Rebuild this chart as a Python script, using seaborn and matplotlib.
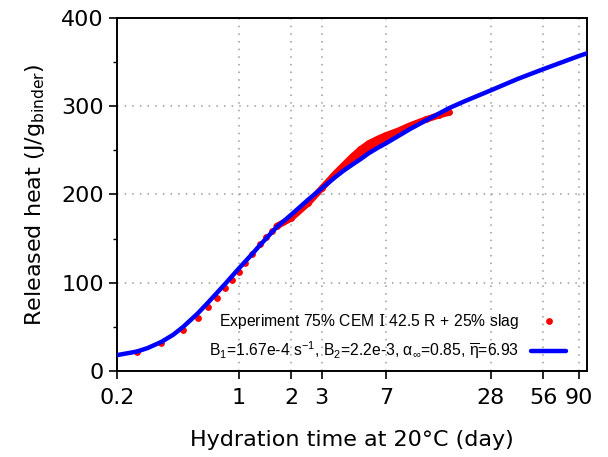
import matplotlib
matplotlib.use("Agg")
import matplotlib.pyplot as plt
from matplotlib.ticker import MultipleLocator, NullLocator
from matplotlib.font_manager import FontProperties
import seaborn as sns
import numpy as np

# ---------------- data ----------------
exp_time = [0.26, 0.36, 0.48, 0.58, 0.67, 0.75, 0.83, 0.92, 1.0, 1.08, 1.2, 1.33,
            1.44, 1.55, 1.65, 2.0, 2.5, 3.0, 3.6, 4.0, 4.5, 5.0, 5.6, 6.3, 7.0,
            8.2, 9.6, 11.9, 14.2, 16.2]
exp_heat = [21.9, 32.1, 46.5, 59.7, 72.2, 83.1, 93.7, 103.1, 112.5, 122, 132.6, 143.9,
            152.2, 159, 164, 173, 190, 207, 224, 233, 243, 251, 258, 263, 267,
            272, 278, 285, 290, 293]

model_time = [0.2, 0.26, 0.3, 0.36, 0.42, 0.48, 0.58, 0.67, 0.83, 1.0, 1.2, 1.33,
              1.65, 2.0, 2.5, 3.0, 3.6, 4.0, 4.5, 5.0, 5.6, 6.3, 7.0, 8.2, 9.6,
              11.9, 14.2, 16.2, 20, 28, 40, 56, 90, 100]
model_heat = [18, 22, 26, 33, 41, 50, 65, 78, 98, 116, 133, 143,
              163, 177, 194, 207, 220, 227, 234, 240, 247, 253, 258, 266, 274,
              284, 292, 298, 306, 318, 331, 342, 357, 360]

x_ticks = [0.2, 1, 2, 3, 7, 28, 56, 90]
x_tick_labels = ["0.2", "1", "2", "3", "7", "28", "56", "90"]
y_ticks = [0, 100, 200, 300, 400]

exp_label = "Experiment 75% CEM $\\mathtt{I}$ 42.5 R + 25% slag"
model_label = r"B$_1$=1.67e-4 s$^{-1}$, B$_2$=2.2e-3, α$_\infty$=0.85, $\overline{\eta}$=6.93"
x_label = "Hydration time at 20°C (day)"
y_label = r"Released heat (J/g$_{\rm binder}$)"

# ---------------- style ----------------
sns.set_style("ticks")
plt.rcParams["font.family"] = ["DejaVu Sans"]
plt.rcParams["text.color"] = "black"
plt.rcParams["axes.labelcolor"] = "black"
plt.rcParams["xtick.color"] = "black"
plt.rcParams["ytick.color"] = "black"
plt.rcParams["mathtext.fontset"] = "dejavusans"
plt.rcParams["mathtext.rm"] = "Liberation Sans"
plt.rcParams["mathtext.it"] = "Liberation Sans:italic"
plt.rcParams["mathtext.bf"] = "Liberation Sans:bold"
plt.rcParams["mathtext.tt"] = "DejaVu Serif"
plt.rcParams["mathtext.default"] = "regular"

fig, ax = plt.subplots(figsize=(6.08, 4.57), dpi=100)
fig.subplots_adjust(left=0.1924, right=0.9655, top=0.9606, bottom=0.1882)

# dense part of the experiment (continuous band)
model_lookup = dict(zip(model_time, model_heat))
dense = [(t, q, model_lookup[t]) for t, q in zip(exp_time, exp_heat)
         if t >= 1.65 and t in model_lookup]
d_t = np.array([d[0] for d in dense])
d_e = np.array([d[1] for d in dense])
d_m = np.array([d[2] for d in dense])

ax.fill_between(d_t, d_m, d_e, where=d_e > d_m, interpolate=True,
                color="#ff0000", lw=0, zorder=2)
sns.lineplot(x=d_t, y=d_e, color="#ff0000", lw=4.7, ax=ax, legend=False,
             zorder=2, label="_nolegend_")
sns.scatterplot(x=exp_time, y=exp_heat, color="#ff0000", s=24, linewidth=0,
                ax=ax, label=exp_label, zorder=2)
sns.lineplot(x=model_time, y=model_heat, color="#0000ff", lw=3.2, ax=ax,
             label=model_label, zorder=3)

ax.set_xscale("log")
ax.set_xlim(0.2, 100)
ax.set_ylim(0, 400)
ax.set_xticks(x_ticks)
ax.set_xticklabels(x_tick_labels)
ax.xaxis.set_minor_locator(NullLocator())
ax.set_yticks(y_ticks)
ax.yaxis.set_minor_locator(MultipleLocator(50))

ax.tick_params(axis="both", which="major", labelsize=16, direction="out",
               length=6, width=1.2, color="black", labelcolor="black")
ax.tick_params(axis="y", which="minor", length=3, width=1.0, direction="out",
               color="black")
ax.tick_params(axis="x", which="major", pad=6)

for sp in ax.spines.values():
    sp.set_visible(True)
    sp.set_linewidth(1.4)
    sp.set_color("black")

ax.grid(True, which="major", linestyle=(0, (1, 4)), color="#9a9a9a", lw=1.1)
ax.set_axisbelow(True)

ax.set_xlabel(x_label, fontsize=16, labelpad=16, color="black")
ax.set_ylabel(y_label, fontsize=16, labelpad=10, color="black")

handles, labels = ax.get_legend_handles_labels()
leg_font = FontProperties(family=["Liberation Sans", "DejaVu Sans"], size=11.3,
                          math_fontfamily="custom")
leg = ax.legend(handles, labels, loc="lower right", bbox_to_anchor=(0.985, -0.012),
                frameon=False, markerfirst=False, prop=leg_font,
                handlelength=2.2, handletextpad=0.8, labelspacing=0.55)
for txt in leg.get_texts():
    txt.set_color("black")

fig.savefig("out.png", dpi=100)
